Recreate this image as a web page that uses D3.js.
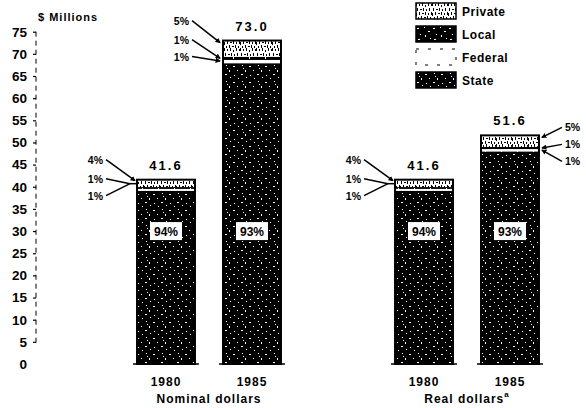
<!DOCTYPE html>
<html>
<head>
<meta charset="utf-8">
<script src="https://cdn.jsdelivr.net/npm/d3@7"></script>
<style>
  body { margin: 0; background: #fff; }
  svg text { font-family: "Liberation Sans", Arial, sans-serif; font-weight: bold; fill: #000; }
</style>
</head>
<body>
<div id="chartContainer"></div>
<script>
// chart data
const panels = ['Nominal dollars', 'Real dollars']
const years = ['1980', '1985']
const nominalTotals = [41.6, 73.0]
const realTotals = [41.6, 51.6]
const sources = ['State', 'Federal', 'Local', 'Private']   // stacked bottom to top
const legendOrder = ['Private', 'Local', 'Federal', 'State']
const stateShare = [94, 93]
const federalShare = [1, 1]
const localShare = [1, 1]
const privateShare = [4, 5]
const yTicks = [0, 5, 10, 15, 20, 25, 30, 35, 40, 45, 50, 55, 60, 65, 70, 75]

const width = 586
const height = 408

const svg = d3.select('#chartContainer').append('svg')
  .attr('width', width)
  .attr('height', height)
  .attr('xmlns', 'http://www.w3.org/2000/svg')

// stipple patterns, to look like the scanned screens
const defs = svg.append('defs')
function speckle (id, bg, fg, dots) {
  const p = defs.append('pattern')
    .attr('id', id)
    .attr('patternUnits', 'userSpaceOnUse')
    .attr('width', 16)
    .attr('height', 16)
  p.append('rect').attr('width', 16).attr('height', 16).attr('fill', bg)
  dots.forEach(function (d) {
    p.append('rect').attr('x', d[0]).attr('y', d[1]).attr('width', d[2]).attr('height', d[3]).attr('fill', fg)
  })
}
speckle('stateFill', '#000', '#fff', [[2, 1, 1, 1], [9, 2, 2, 1], [13, 6, 1, 1], [5, 6, 1, 2], [1, 10, 2, 1], [10, 11, 1, 1], [6, 13, 1, 1], [14, 14, 1, 1], [3, 4, 1, 1]])
speckle('localFill', '#000', '#fff', [[1, 2, 2, 1], [8, 1, 1, 1], [12, 5, 2, 1], [4, 8, 1, 1], [9, 9, 1, 2], [14, 12, 1, 1], [2, 13, 2, 1]])
speckle('privateFill', '#fff', '#000', [[0, 0, 1, 3], [3, 1, 1, 2], [6, 0, 1, 3], [9, 2, 1, 2], [12, 0, 1, 3], [15, 1, 1, 2],
  [1, 5, 1, 3], [4, 6, 2, 1], [7, 5, 1, 3], [10, 6, 1, 2], [13, 5, 1, 3],
  [0, 10, 1, 3], [3, 9, 1, 3], [6, 10, 2, 1], [9, 9, 1, 3], [12, 10, 1, 2], [15, 9, 1, 3],
  [2, 14, 1, 2], [5, 13, 1, 3], [8, 14, 2, 1], [11, 13, 1, 3], [14, 14, 1, 2]])

const fills = {
  State: 'url(#stateFill)',
  Federal: '#fff',
  Local: 'url(#localFill)',
  Private: 'url(#privateFill)'
}

// build one row per bar from the arrays
const rows = []
panels.forEach(function (panel, p) {
  const totals = p === 0 ? nominalTotals : realTotals
  years.forEach(function (year, i) {
    const total = totals[i]
    rows.push({
      panel: panel,
      year: year,
      total: total,
      shares: { State: stateShare[i], Federal: federalShare[i], Local: localShare[i], Private: privateShare[i] },
      State: total * stateShare[i] / 100,
      Federal: total * federalShare[i] / 100,
      Local: total * localShare[i] / 100,
      Private: total * privateShare[i] / 100
    })
  })
})

const stack = d3.stack().keys(sources)(rows)

// scales
const y = d3.scaleLinear().domain([0, 75]).range([364, 31.7])
const xPanel = d3.scaleBand().domain(panels).range([123, 639]).padding(0)
const xYear = d3.scaleBand().domain(years).range([0, 172]).paddingInner(0.326).paddingOuter(0.163)
function barX (d) { return xPanel(d.panel) + xYear(d.year) }
const bw = xYear.bandwidth()

// y axis
const yAxis = d3.axisLeft(y).tickValues(yTicks).tickSize(3).tickSizeOuter(0).tickPadding(6)
const gy = svg.append('g').attr('transform', 'translate(36,0)').call(yAxis)
gy.select('.domain').attr('stroke-dasharray', '5,4').attr('stroke-width', 1)
  .attr('d', 'M0,' + y(75) + 'V' + y(4))
gy.selectAll('.tick line').attr('stroke-width', 1.2)
gy.selectAll('.tick').filter(function (d) { return d === 0 }).select('line').remove()
gy.selectAll('.tick text')
  .style('font-size', '13.5px')
  .style('font-family', '"Liberation Sans", Arial, sans-serif')
  .style('font-weight', 'bold')
  .attr('fill', '#000')

svg.append('text')
  .attr('x', 38)
  .attr('y', 21)
  .style('font-size', '11px')
  .style('letter-spacing', '1px')
  .text('$ Millions')

// stacked bars
svg.append('g').selectAll('g')
  .data(stack)
  .enter().append('g')
  .attr('fill', function (s) { return fills[s.key] })
  .selectAll('rect')
  .data(function (s) { return s })
  .enter().append('rect')
  .attr('x', function (d) { return barX(d.data) })
  .attr('y', function (d) { return y(d[1]) })
  .attr('width', bw)
  .attr('height', function (d) { return y(d[0]) - y(d[1]) })

// bar outlines and base lines
const bars = svg.append('g').selectAll('g')
  .data(rows)
  .enter().append('g')

bars.append('rect')
  .attr('x', function (d) { return barX(d) })
  .attr('y', function (d) { return y(d.total) })
  .attr('width', bw)
  .attr('height', function (d) { return y(0) - y(d.total) })
  .attr('fill', 'none')
  .attr('stroke', '#000')
  .attr('stroke-width', 2)

bars.append('line')
  .attr('x1', function (d) { return barX(d) - 4 })
  .attr('x2', function (d) { return barX(d) + bw + 4 })
  .attr('y1', y(0))
  .attr('y2', y(0))
  .attr('stroke', '#000')
  .attr('stroke-width', 1.5)

// total above each bar
bars.append('text')
  .attr('x', function (d) { return barX(d) + bw / 2 })
  .attr('y', function (d) { return y(d.total) - 10 })
  .attr('text-anchor', 'middle')
  .style('font-size', '13px')
  .style('letter-spacing', '2px')
  .text(function (d) { return d.total.toFixed(1) })

// state share box
bars.append('rect')
  .attr('x', function (d) { return barX(d) + bw / 2 - 16 })
  .attr('y', y(30) - 9)
  .attr('width', 32)
  .attr('height', 18)
  .attr('fill', '#fff')
bars.append('text')
  .attr('x', function (d) { return barX(d) + bw / 2 })
  .attr('y', y(30) + 4.5)
  .attr('text-anchor', 'middle')
  .style('font-size', '12px')
  .text(function (d) { return d.shares.State + '%' })

// leader labels for the thin segments
defs.append('marker')
  .attr('id', 'arrow')
  .attr('viewBox', '0 0 6 6')
  .attr('refX', 5)
  .attr('refY', 3)
  .attr('markerWidth', 3.5)
  .attr('markerHeight', 3.5)
  .attr('orient', 'auto')
  .append('path')
  .attr('d', 'M0,0L6,3L0,6Z')
  .attr('fill', '#000')

const calloutKeys = ['Private', 'Local', 'Federal']
bars.each(function (d) {
  const g = d3.select(this)
  const right = d.panel === panels[1] && d.year === years[1]
  const thin = d.total < 45
  const top = y(d.total)
  const textY = right ? [top - 4, top + 13, top + 30] : [top - 16, top + 3, top + 20]
  const bx = right ? barX(d) + bw : barX(d)
  const tx = right ? bx + 26 : bx - 34
  const bottoms = { Private: d.total - d.Private, Local: d.total - d.Private - d.Local }
  calloutKeys.forEach(function (k, i) {
    let ty, ex
    if (k === 'Private') ty = top + 2
    else if (k === 'Local') ty = (y(bottoms.Private) + y(bottoms.Local)) / 2
    else ty = y(bottoms.Local) + 1
    ex = right ? bx + 3 : bx - 3
    if (thin) {
      // short bars: the two 1% lines meet just left of the bar
      ty = k === 'Private' ? top + 1 : top + 4
      ex = k === 'Private' ? bx - 2 : bx - 7
    }
    g.append('line')
      .attr('x1', right ? tx - 3 : tx + 3)
      .attr('y1', textY[i] - 4)
      .attr('x2', ex)
      .attr('y2', ty)
      .attr('stroke', '#000')
      .attr('stroke-width', 1.5)
      .attr('marker-end', thin && k !== 'Private' ? null : 'url(#arrow)')
    g.append('text')
      .attr('x', tx)
      .attr('y', textY[i])
      .attr('text-anchor', right ? 'start' : 'end')
      .style('font-size', '10.5px')
      .text(d.shares[k] + '%')
  })
  if (thin) {
    g.append('line')
      .attr('x1', bx - 7).attr('y1', top + 4)
      .attr('x2', bx - 1).attr('y2', top + 4)
      .attr('stroke', '#000')
      .attr('stroke-width', 1.5)
  }
})

// category labels
svg.append('g').selectAll('text')
  .data(rows)
  .enter().append('text')
  .attr('x', function (d) { return barX(d) + bw / 2 })
  .attr('y', 386)
  .attr('text-anchor', 'middle')
  .style('font-size', '12px')
  .style('letter-spacing', '1px')
  .text(function (d) { return d.year })

const panelLabels = svg.append('g').selectAll('text')
  .data(panels)
  .enter().append('text')
  .attr('x', function (d) { return xPanel(d) + 86 })
  .attr('y', 403)
  .attr('text-anchor', 'middle')
  .style('font-size', '12px')
  .style('letter-spacing', '1px')
  .text(function (d) { return d })
panelLabels.filter(function (d) { return d === panels[1] })
  .append('tspan')
  .attr('dy', -6)
  .style('font-size', '8px')
  .text('a')

// legend
const legend = svg.append('g').attr('transform', 'translate(416,3)')
const item = legend.selectAll('g')
  .data(legendOrder)
  .enter().append('g')
  .attr('transform', function (d, i) { return 'translate(0,' + (i * 23) + ')' })
item.append('rect')
  .attr('width', 40)
  .attr('height', 16)
  .attr('fill', function (d) { return fills[d] })
  .attr('stroke', '#000')
  .attr('stroke-width', function (d) { return d === 'Federal' ? 1 : 1.5 })
  .attr('stroke-dasharray', function (d) { return d === 'Federal' ? '3,9' : null })
item.append('text')
  .attr('x', 46)
  .attr('y', 12.5)
  .style('font-size', '12px')
  .style('letter-spacing', '0.5px')
  .text(function (d) { return d })
</script>
</body>
</html>
